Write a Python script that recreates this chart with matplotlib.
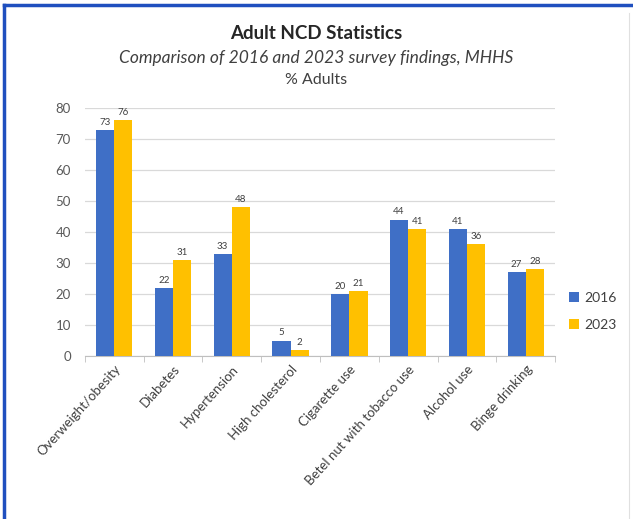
import matplotlib
matplotlib.use("Agg")
import matplotlib.pyplot as plt
import numpy as np
from matplotlib.lines import Line2D

categories = ["Overweight/obesity", "Diabetes", "Hypertension", "High cholesterol",
              "Cigarette use", "Betel nut with tobacco use", "Alcohol use", "Binge drinking"]
series_names = ["2016", "2023"]
values_2016 = [73, 22, 33, 5, 20, 44, 41, 27]
values_2023 = [76, 31, 48, 2, 21, 41, 36, 28]
y_ticks = [0, 10, 20, 30, 40, 50, 60, 70, 80]

plt.rcParams['font.family'] = ['Lato', 'DejaVu Sans']

fig = plt.figure(figsize=(6.33, 5.19), dpi=100)
ax = fig.add_axes([0.134, 0.314, 0.743, 0.478])

x = np.arange(len(categories))
w = 0.31
blue = "#3F6FC6"
gold = "#FFC000"
b1 = ax.bar(x - w/2, values_2016, w, color=blue, label=series_names[0], zorder=3)
b2 = ax.bar(x + w/2, values_2023, w, color=gold, label=series_names[1], zorder=3)
for bars, vals in ((b1, values_2016), (b2, values_2023)):
    for r, v in zip(bars, vals):
        ax.text(r.get_x() + r.get_width()/2, v + 1, str(v), ha="center", va="bottom",
                fontsize=7, color="#404040")

ax.set_xlim(-0.5, len(categories) - 0.5)
ax.set_ylim(0, 80)
ax.set_yticks(y_ticks)
ax.tick_params(axis="y", length=0, labelsize=9.5, labelcolor="#595959", pad=10)
ax.set_xticks(x)
ax.set_xticklabels(categories, rotation=48, ha="right", rotation_mode="anchor",
                   fontsize=9.5, color="#404040")
ax.tick_params(axis="x", length=0, pad=5)
ax.set_xticks(np.arange(-0.5, len(categories), 1), minor=True)
ax.tick_params(axis="x", which="minor", length=4, color="#BFBFBF")
ax.grid(axis="y", color="#D9D9D9", linewidth=0.9, zorder=0)
for s in ("top", "right", "left"):
    ax.spines[s].set_visible(False)
ax.spines["bottom"].set_color("#BFBFBF")

ax.legend(loc="center left", bbox_to_anchor=(1.03, 0.18), borderaxespad=0,
          borderpad=0, frameon=False,
          fontsize=10, labelcolor="#404040", handlelength=0.7, handleheight=0.7,
          labelspacing=1.1, handletextpad=0.4)

fig.text(0.5, 0.935, "Adult NCD Statistics", ha="center", va="center",
         fontsize=13.5, fontweight="bold", color="#262626")
fig.text(0.5, 0.888, "Comparison of 2016 and 2023 survey findings, MHHS", ha="center",
         va="center", fontsize=12.5, style="italic", color="#404040")
fig.text(0.5, 0.845, "% Adults", ha="center", va="center", fontsize=11.5, color="#404040")

# border lines
fig.add_artist(Line2D([0.007, 0.007], [0, 0.99], transform=fig.transFigure,
                      color="#1F4FBF", linewidth=2.5))
fig.add_artist(Line2D([0.007, 1.0], [0.99, 0.99], transform=fig.transFigure,
                      color="#1F4FBF", linewidth=2.5))
fig.add_artist(Line2D([0.994, 0.994], [0, 0.975], transform=fig.transFigure,
                      color="#E0E0E0", linewidth=0.8))

fig.savefig("out.png", dpi=100, facecolor="white")
